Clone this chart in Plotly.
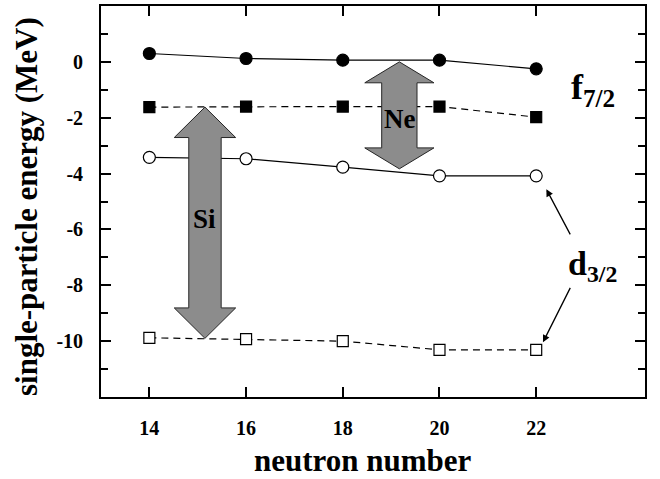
import plotly.graph_objects as go

# Neutron numbers on the x axis
neutron_number = [14, 16, 18, 20, 22]

# Single-particle energies (MeV)
ne_f72 = [0.30, 0.12, 0.06, 0.06, -0.25]          # Ne f7/2 (filled circles)
si_f72 = [-1.62, -1.60, -1.60, -1.60, -1.98]      # Si f7/2 (filled squares)
ne_d32 = [-3.42, -3.47, -3.77, -4.08, -4.08]      # Ne d3/2 (open circles)
si_d32 = [-9.88, -9.93, -10.00, -10.31, -10.31]   # Si d3/2 (open squares)

# Shell gaps indicated by the double arrows: (label, N position, top, bottom)
gap_labels = ["Si", "Ne"]
gap_n = [15.15, 19.17]
gap_top = [-1.62, 0.00]
gap_bottom = [-9.90, -3.83]

y_tickvals = [-10, -8, -6, -4, -2, 0]
y_minor = [-11, -9, -7, -5, -3, -1, 1]

SERIF = "Liberation Serif"


def double_arrow(xc, y_top, y_bot, shaft_hw, head_hw, head_len):
    xs = [xc, xc + head_hw, xc + shaft_hw, xc + shaft_hw, xc + head_hw, xc,
          xc - head_hw, xc - shaft_hw, xc - shaft_hw, xc - head_hw, xc]
    ys = [y_top, y_top - head_len, y_top - head_len, y_bot + head_len,
          y_bot + head_len, y_bot, y_bot + head_len, y_bot + head_len,
          y_top - head_len, y_top - head_len, y_top]
    return xs, ys


def bold(s):
    return "<b>" + s + "</b>"


fig = go.Figure()

series = [
    (ne_f72, "solid", "circle", "black", 12),
    (si_f72, "7px,5px", "square", "black", 11),
    (ne_d32, "solid", "circle", "white", 12),
    (si_d32, "7px,5px", "square", "white", 11),
]
for vals, dash, sym, fill, size in series:
    fig.add_trace(go.Scatter(
        x=neutron_number, y=vals, mode="lines",
        line=dict(color="black", width=1.2, dash=dash),
        hoverinfo="skip"))

# Gap arrows with their labels
arrow_style = {
    "Si": dict(shaft_hw=0.335, head_hw=0.635, head_len=1.09),
    "Ne": dict(shaft_hw=0.365, head_hw=0.715, head_len=0.75),
}
for lab, xc, yt, yb in zip(gap_labels, gap_n, gap_top, gap_bottom):
    xs, ys = double_arrow(xc, yt, yb, **arrow_style[lab])
    fig.add_trace(go.Scatter(
        x=xs, y=ys, mode="lines", fill="toself",
        fillcolor="#8c8c8c", line=dict(color="#262626", width=1),
        hoverinfo="skip"))

for vals, dash, sym, fill, size in series:
    fig.add_trace(go.Scatter(
        x=neutron_number, y=vals, mode="markers",
        marker=dict(symbol=sym, size=size, color=fill,
                    line=dict(color="black", width=1.2)),
        hoverinfo="skip"))

label_y = {"Si": -5.62, "Ne": -2.05}
for lab, xc in zip(gap_labels, gap_n):
    fig.add_annotation(x=xc, y=label_y[lab], text=bold(lab), showarrow=False,
                       xanchor="center", yanchor="middle",
                       font=dict(family=SERIF, size=27, color="black"))

# Orbital labels
fig.add_annotation(x=23.18, y=-1.0, text=bold("f<sub>7/2</sub>"), showarrow=False,
                   xanchor="center", yanchor="middle",
                   font=dict(family=SERIF, size=36, color="black"))
fig.add_annotation(x=23.16, y=-7.3, text=bold("d<sub>3/2</sub>"), showarrow=False,
                   xanchor="center", yanchor="middle",
                   font=dict(family=SERIF, size=34, color="black"))

# Pointer arrows from the d3/2 label to the N=22 points
for hx, hy, tx, ty in [(22.21, -4.56, 22.72, -6.23), (22.14, -10.04, 22.72, -8.04)]:
    fig.add_annotation(x=hx, y=hy, ax=tx, ay=ty, xref="x", yref="y",
                       axref="x", ayref="y", text="", showarrow=True,
                       arrowhead=2, arrowsize=1.1, arrowwidth=1.3,
                       arrowcolor="black", standoff=0, startstandoff=0)

# Axis titles
fig.add_annotation(xref="paper", yref="paper", x=0.482, y=-0.1616,
                   xanchor="center", yanchor="middle",
                   text=bold("neutron number"), showarrow=False,
                   font=dict(family=SERIF, size=31, color="black"))
fig.add_annotation(xref="paper", yref="paper", x=-0.136, y=0.486,
                   xanchor="center", yanchor="middle",
                   text=bold("single-particle energy (MeV)"), showarrow=False,
                   textangle=-90,
                   font=dict(family=SERIF, size=31, color="black"))

axis_common = dict(
    ticks="inside", ticklen=10, tickwidth=1.5, tickcolor="black",
    showline=True, linewidth=1.8, linecolor="black", mirror="ticks",
    showgrid=False, zeroline=False,
    tickfont=dict(family=SERIF, size=20, color="black"),
)

fig.update_xaxes(range=[13, 24.25], tickvals=neutron_number,
                 ticktext=[bold(str(v)) for v in neutron_number],
                 ticklabelstandoff=12, **axis_common)
fig.update_yaxes(range=[-12, 2], tickvals=y_tickvals,
                 ticktext=[bold(str(v)) for v in y_tickvals],
                 minor=dict(tickvals=y_minor, ticks="inside", ticklen=7,
                            tickwidth=1.5, tickcolor="black"),
                 ticklabelstandoff=12, **axis_common)

fig.update_layout(
    width=660, height=479,
    margin=dict(l=101, r=15, t=4, b=82),
    plot_bgcolor="white", paper_bgcolor="white",
    showlegend=False,
)

fig.write_html("out.html")
